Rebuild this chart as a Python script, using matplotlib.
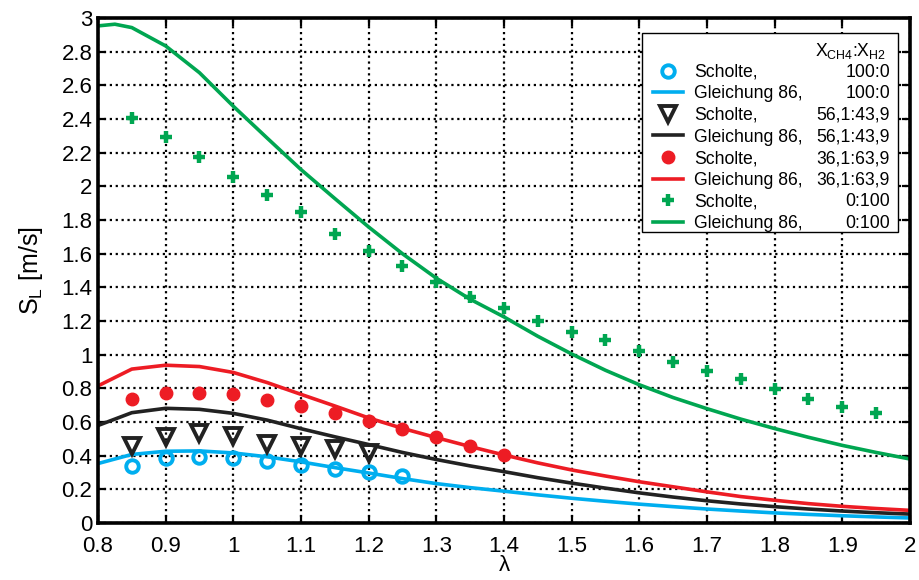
import numpy as np
import matplotlib
matplotlib.use('Agg')
import matplotlib.pyplot as plt
from matplotlib.lines import Line2D
from matplotlib.patches import Rectangle
from matplotlib.ticker import FuncFormatter

plt.rcParams['font.family'] = ['Liberation Sans', 'DejaVu Sans']
plt.rcParams['mathtext.fontset'] = 'custom'
plt.rcParams['mathtext.rm'] = 'Liberation Sans'
plt.rcParams['mathtext.it'] = 'Liberation Sans'

# Gleichung 86 curves
lam_curve = [0.8, 0.85, 0.9, 0.95, 1.0, 1.05, 1.1, 1.15, 1.2, 1.25, 1.3, 1.35, 1.4,
             1.45, 1.5, 1.55, 1.6, 1.65, 1.7, 1.75, 1.8, 1.85, 1.9, 1.95, 2.0]
sl_ch4 = [0.354, 0.408, 0.427, 0.429, 0.417, 0.394, 0.364, 0.330, 0.298, 0.265, 0.235,
          0.211, 0.190, 0.168, 0.148, 0.130, 0.113, 0.098, 0.084, 0.072, 0.061, 0.052,
          0.044, 0.037, 0.031]
sl_mix56 = [0.580, 0.656, 0.682, 0.676, 0.652, 0.612, 0.561, 0.513, 0.467, 0.420, 0.378,
            0.340, 0.306, 0.270, 0.238, 0.208, 0.180, 0.155, 0.133, 0.114, 0.098, 0.084,
            0.072, 0.062, 0.054]
sl_mix36 = [0.815, 0.915, 0.938, 0.930, 0.895, 0.835, 0.765, 0.696, 0.625, 0.563, 0.508,
            0.455, 0.405, 0.358, 0.316, 0.280, 0.246, 0.216, 0.186, 0.158, 0.136, 0.116,
            0.100, 0.087, 0.076]
lam_h2 = [0.8, 0.825, 0.85, 0.9, 0.95, 1.0, 1.05, 1.1, 1.15, 1.2, 1.25, 1.3, 1.35, 1.4,
          1.45, 1.5, 1.55, 1.6, 1.65, 1.7, 1.75, 1.8, 1.85, 1.9, 1.95, 2.0]
sl_h2 = [2.953, 2.963, 2.943, 2.834, 2.675, 2.476, 2.287, 2.100, 1.928, 1.759, 1.600,
         1.455, 1.330, 1.225, 1.110, 1.005, 0.908, 0.822, 0.746, 0.680, 0.618, 0.562,
         0.510, 0.462, 0.420, 0.381]

# Scholte measurements
lam_s_ch4 = [0.85, 0.9, 0.95, 1.0, 1.05, 1.1, 1.15, 1.2, 1.25]
s_ch4 = [0.342, 0.388, 0.392, 0.388, 0.368, 0.344, 0.324, 0.302, 0.282]
lam_s_56 = [0.85, 0.9, 0.95, 1.0, 1.05, 1.1, 1.15, 1.2]
s_56 = [0.460, 0.513, 0.537, 0.517, 0.473, 0.461, 0.441, 0.417]
lam_s_36 = [0.85, 0.9, 0.95, 1.0, 1.05, 1.1, 1.15, 1.2, 1.25, 1.3, 1.35, 1.4]
s_36 = [0.736, 0.775, 0.775, 0.765, 0.730, 0.696, 0.656, 0.606, 0.557, 0.511, 0.461, 0.404]
lam_s_h2 = [0.85, 0.9, 0.95, 1.0, 1.05, 1.1, 1.15, 1.2, 1.25, 1.3, 1.35, 1.4, 1.45,
            1.5, 1.55, 1.6, 1.65, 1.7, 1.75, 1.8, 1.85, 1.9, 1.95]
s_h2 = [2.406, 2.296, 2.177, 2.058, 1.948, 1.849, 1.720, 1.616, 1.526, 1.431, 1.345,
        1.276, 1.198, 1.137, 1.089, 1.020, 0.958, 0.904, 0.858, 0.795, 0.735, 0.690, 0.652]

labels = ['Scholte,', 'Gleichung 86,'] * 4
ratios = ['100:0', '100:0', '56,1:43,9', '56,1:43,9', '36,1:63,9', '36,1:63,9', '0:100', '0:100']
header = 'X$_{\\mathrm{CH4}}$:X$_{\\mathrm{H2}}$'

blue = '#00aeef'
red = '#ed1c24'
green = '#00a651'

fig = plt.figure(figsize=(9.2, 5.8), dpi=100)
ax = fig.add_axes([0.1065, 0.098, 0.8825, 0.871])

lw = 2.6
h1, = ax.plot(lam_s_ch4, s_ch4, 'o', ms=9, mfc='none', mec=blue, mew=2.8)
h2, = ax.plot(lam_curve, sl_ch4, '-', color=blue, lw=lw)
h3, = ax.plot(lam_s_56, s_56, 'v', ms=11.5, mfc='none', mec='#222222', mew=2.8)
h4, = ax.plot(lam_curve, sl_mix56, '-', color='#222222', lw=lw)
h5, = ax.plot(lam_s_36, s_36, 'o', ms=9, color=red)
h6, = ax.plot(lam_curve, sl_mix36, '-', color=red, lw=lw)
h7, = ax.plot(lam_s_h2, s_h2, '+', ms=9, mew=3.2, color=green)
h8, = ax.plot(lam_h2, sl_h2, '-', color=green, lw=lw)

ax.set_xlim(0.8, 2.0)
ax.set_ylim(0, 3)
ax.set_xticks(np.arange(0.8, 2.001, 0.1))
ax.set_yticks(np.arange(0, 3.001, 0.2))
fmt = FuncFormatter(lambda v, p: '%g' % round(v, 2))
ax.xaxis.set_major_formatter(fmt)
ax.yaxis.set_major_formatter(fmt)
ax.tick_params(direction='in', top=True, right=True, length=6, width=1.6,
               labelsize=16)
ax.tick_params(axis='x', pad=9)
ax.tick_params(axis='y', pad=4)
ax.grid(True, linestyle=':', color='black', linewidth=1.6)
for s in ax.spines.values():
    s.set_linewidth(2.6)

ax.set_xlabel('λ', fontsize=16, labelpad=-1)
ax.set_ylabel('S$_{\\mathrm{L}}$ [m/s]', fontsize=18, labelpad=12)

# legend: handles + labels, frame and ratio column drawn afterwards
fs = 12.7
blank = Line2D([], [], linestyle='none')
leg = ax.legend([blank, h1, h2, h3, h4, h5, h6, h7, h8], [' '] + labels,
                loc='upper left', bbox_to_anchor=(0.6835, 0.952), frameon=False,
                fontsize=fs, handlelength=1.7, handletextpad=0.62,
                labelspacing=0.26, borderpad=0, borderaxespad=0)
ax.add_patch(Rectangle((0.670, 0.576), 0.315, 0.394, transform=ax.transAxes,
                       facecolor='white', edgecolor='black', lw=1.0, zorder=4.9))
leg.set_zorder(5)

fig.canvas.draw()
r = fig.canvas.get_renderer()
inv = fig.transFigure.inverted()
xr = inv.transform((890, 0))[0]
for i, t in enumerate(leg.get_texts()):
    bb = t.get_window_extent(r)
    yc = inv.transform((0, (bb.y0 + bb.y1) / 2))[1]
    if i == 0:
        fig.text(inv.transform((886, 0))[0], yc, header, ha='right', va='center',
                 fontsize=fs, zorder=6)
    else:
        fig.text(xr, yc, ratios[i - 1], ha='right', va='center', fontsize=fs, zorder=6)

fig.savefig('out.png', dpi=100)
